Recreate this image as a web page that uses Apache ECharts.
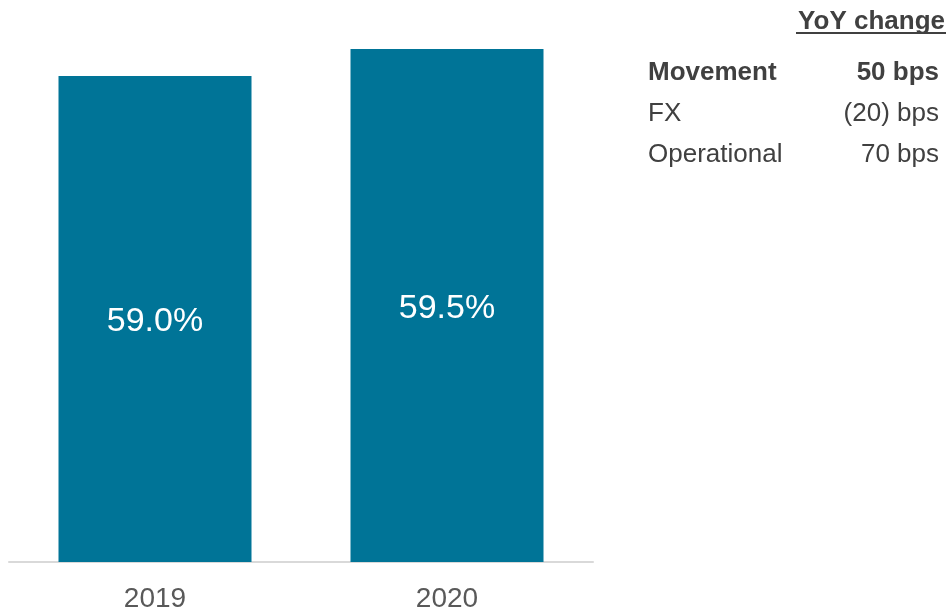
<!DOCTYPE html>
<html>
<head>
<meta charset="utf-8">
<script src="https://cdn.jsdelivr.net/npm/echarts@6/dist/echarts.min.js"></script>
<style>html,body{margin:0;padding:0;background:#fff;}#c{width:948px;height:613px;}</style>
</head>
<body>
<div id="c"></div>
<script>
const categories = ['2019', '2020'];
const values = [59.0, 59.5];
const tableHeader = 'YoY change';
const rowLabels = ['Movement', 'FX', 'Operational'];
const rowValues = ['50 bps', '(20) bps', '70 bps'];
const rowBold = [true, false, false];

const chart = echarts.init(document.getElementById('c'));
const FONT = 'Liberation Sans, Arial, sans-serif';
const graphic = [];
graphic.push({
  type: 'text', right: 3, top: 9,
  style: { text: tableHeader, font: 'bold 26px ' + FONT, fill: '#404040', textAlign: 'right' }
});
graphic.push({
  type: 'rect', shape: { x: 796, y: 32, width: 150, height: 2 }, style: { fill: '#404040' }
});
rowLabels.forEach((l, i) => {
  const y = 73 + i * 41;
  graphic.push({
    type: 'text', x: 648, y: y,
    style: { text: l, font: (rowBold[i] ? 'bold ' : '') + '26px ' + FONT, fill: '#404040', textVerticalAlign: 'middle', textAlign: 'left' }
  });
  graphic.push({
    type: 'text', x: 939, y: y,
    style: { text: rowValues[i], font: (rowBold[i] ? 'bold ' : '') + '26px ' + FONT, fill: '#404040', textVerticalAlign: 'middle', textAlign: 'right' }
  });
});

chart.setOption({
  animation: false,
  grid: { left: 9, width: 584, top: 22, bottom: 49, containLabel: false },
  xAxis: {
    type: 'category', data: categories,
    axisLine: { show: true, lineStyle: { color: '#d9d9d9', width: 2 } },
    axisTick: { show: false },
    axisLabel: { color: '#595959', fontSize: 28, fontFamily: FONT, margin: 23 }
  },
  yAxis: { type: 'value', min: 50, max: 60, show: false, splitLine: { show: false } },
  series: [{
    type: 'bar', data: values, barWidth: 193,
    itemStyle: { color: '#007497' },
    label: {
      show: true, position: 'inside', color: '#ffffff', fontSize: 34, fontFamily: FONT,
      offset: [0, 3],
      formatter: p => p.value.toFixed(1) + '%'
    }
  }],
  graphic: graphic
});
</script>
</body>
</html>
